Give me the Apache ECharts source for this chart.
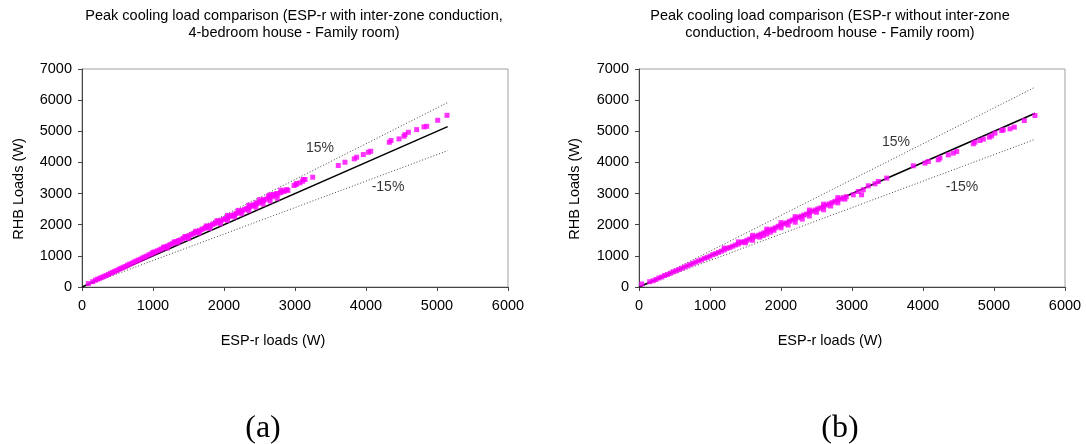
<!DOCTYPE html>
<html>
<head>
<meta charset="utf-8">
<script src="https://cdn.jsdelivr.net/npm/echarts@6/dist/echarts.min.js"></script>
<style>html,body{margin:0;padding:0;background:#fff}#c{width:1086px;height:444px}</style>
</head>
<body>
<div id="c"></div>
<script>
// ---- data ----
const titleA = ['Peak cooling load comparison (ESP-r with inter-zone conduction,', '4-bedroom house - Family room)'];
const titleB = ['Peak cooling load comparison (ESP-r without inter-zone', 'conduction, 4-bedroom house - Family room)'];
const xName = 'ESP-r loads (W)';
const yName = 'RHB Loads (W)';
const panelLabels = ['(a)', '(b)'];
const bandLabels = ['15%', '-15%'];

// ESP-r (x) vs RHB (y), panel (a)
const pointsA = [
[90,110],[150,170],[190,220],[220,250],[250,280],[280,310],[310,340],[340,370],[370,400],[400,440],
[430,470],[460,500],[490,530],[520,570],[550,600],[580,630],[610,660],[640,700],[670,730],[700,760],
[730,800],[760,830],[790,860],[820,890],[850,930],[880,960],[910,990],[940,1030],[970,1060],[1000,1090],
[1030,1130],[1060,1160],[1090,1190],[1120,1220],[1150,1260],[1180,1290],[1210,1320],[1240,1360],[1270,1390],[1300,1420],
[1330,1460],[1360,1490],[1390,1510],[1420,1550],[1450,1590],[1480,1620],[1510,1650],[1540,1690],[1570,1710],[1600,1750],
[1630,1780],[1660,1810],[1690,1850],[1720,1880],[1750,1910],[1780,1950],[1810,1970],[1840,2010],[1870,2040],[1900,2070],
[1930,2110],[1960,2130],[1990,2170],[2020,2200],[2050,2230],[2080,2260],[2110,2300],[2140,2320],[2170,2360],[2200,2390],
[2230,2420],[2260,2460],[2290,2490],[2320,2520],[2350,2560],[2380,2590],[2410,2620],[2440,2660],[2470,2690],[2500,2720],
[2530,2750],[2560,2780],[2600,2820],[2640,2860],[2680,2900],[2720,2940],[2760,2990],[2800,3030],[2850,3080],[2900,3100],
[1200,1250],[1350,1420],[1500,1560],[1650,1730],[1800,1880],[1950,2030],[2050,2140],[2150,2250],[2250,2350],[2350,2450],
[2450,2560],[2550,2660],[2650,2760],[2750,2850],
[1000,1110],[1150,1280],[1300,1450],[1450,1620],[1600,1790],[1750,1960],[1900,2130],[2050,2300],[2200,2460],[2350,2630],
[2500,2800],[2650,2960],[2800,3110],
[2413,2628],[2460,2705],[2554,2811],[2624,2917],[2694,2971],[2742,3003],[2836,3077],[2883,3131],[2986,3260],[3014,3292],
[3024,3324],[3070,3346],[3108,3397],[3117,3452],[3141,3452],[3249,3526],[3610,3901],[3704,4006],[3835,4115],[3869,4167],
[3962,4253],[4033,4327],[4066,4359],[4328,4647],[4352,4702],[4465,4756],[4535,4840],[4549,4894],[4597,4968],[4714,5054],
[4817,5141],[4855,5160],[5010,5353],[5141,5513]
];

// panel (b)
const pointsB = [
[38,96],[150,170],[200,200],[240,240],[280,290],[320,320],[360,370],[400,400],[440,440],[480,490],
[520,520],[560,560],[600,600],[640,640],[680,680],[720,720],[760,760],[800,800],[840,840],[880,870],
[920,920],[960,950],[1000,990],[1040,1040],[1080,1070],[1120,1110],[1160,1150],[1200,1190],[1240,1240],[1280,1270],
[1320,1310],[1360,1350],[1400,1380],[1440,1430],[1480,1460],[1520,1500],[1560,1540],[1600,1600],[1640,1620],[1680,1660],
[1720,1700],[1760,1740],[1800,1790],[1840,1830],[1880,1860],[1920,1900],[1960,1950],[2000,1990],[2040,2030],[2080,2060],
[2120,2110],[2160,2150],[2200,2190],[2240,2230],[2280,2270],[2320,2310],[2360,2340],[2400,2390],[2440,2430],[2480,2470],
[2520,2510],[2560,2540],[2600,2590],[2640,2630],[2680,2670],[2720,2710],[2760,2750],[2800,2790],[2840,2830],[2880,2870],
[2920,2900],
[1500,1420],[1600,1500],[1700,1600],[1750,1650],[1800,1700],[1850,1760],[1900,1820],[2000,1900],[2100,1990],[2200,2080],
[2300,2180],[2400,2280],[2500,2400],[2600,2480],[2700,2600],[2800,2700],[2900,2820],
[1200,1250],[1400,1450],[1600,1660],[1800,1860],[2000,2070],[2200,2260],[2400,2470],[2600,2660],[2800,2870],
[3018,2961],[3088,3067],[3135,2960],[3159,3122],[3230,3250],[3324,3314],[3370,3388],[3489,3497],[3863,3892],[4028,3978],
[4075,4030],[4215,4084],[4239,4139],[4356,4244],[4427,4299],[4475,4350],[4709,4598],[4732,4652],[4803,4703],[4850,4748],
[4934,4812],[4967,4854],[5014,4941],[5108,5024],[5131,5047],[5225,5079],[5286,5133],[5427,5345],[5577,5505]
];

// reference lines: 1:1 and +/-15 %
const refXA = [0, 5150];
const refYA = [0, 5150];
const upperYA = [0, 5922];
const lowerYA = [0, 4378];
const refXB = [0, 5580];
const refYB = [0, 5580];
const upperYB = [0, 6417];
const lowerYB = [0, 4743];

// band label anchors (data units)
const bandLabelPosA = [[3352, 4470], [4310, 3200]];
const bandLabelPosB = [[3620, 4660], [4549, 3220]];

// ---- chart ----
const FONT = '"Liberation Sans", Arial, sans-serif';
const SERIF = '"Liberation Serif", "Times New Roman", serif';
const FS = 14.5;
const chart = echarts.init(document.getElementById('c'), null, {renderer: 'canvas'});

function pairs(xs, ys) { return xs.map((x, i) => [x, ys[i]]); }

function axisX(gi) {
  return {
    type: 'value', gridIndex: gi, min: 0, max: 6000, interval: 1000,
    axisLine: {show: true, lineStyle: {color: '#444', width: 1}},
    axisTick: {show: true, inside: false, length: 4, lineStyle: {color: '#444'}},
    axisLabel: {color: '#000', fontSize: FS, fontFamily: FONT, margin: 11, formatter: v => String(v)},
    splitLine: {show: false}
  };
}
function axisY(gi) {
  return {
    type: 'value', gridIndex: gi, min: 0, max: 7000, interval: 1000,
    axisLine: {show: true, lineStyle: {color: '#444', width: 1}},
    axisTick: {show: true, inside: false, length: 4, lineStyle: {color: '#444'}},
    axisLabel: {color: '#000', fontSize: FS, fontFamily: FONT, margin: 10, formatter: v => String(v)},
    splitLine: {show: false}
  };
}
function seriesFor(gi, pts, rx, ry, up, lo, labPos) {
  return [
    {type: 'line', xAxisIndex: gi, yAxisIndex: gi, data: pairs(rx, up), symbol: 'none', silent: true,
     lineStyle: {color: '#444', width: 1, type: [1, 2]}, z: 2},
    {type: 'line', xAxisIndex: gi, yAxisIndex: gi, data: pairs(rx, lo), symbol: 'none', silent: true,
     lineStyle: {color: '#444', width: 1, type: [1, 2]}, z: 2},
    {type: 'line', xAxisIndex: gi, yAxisIndex: gi, data: pairs(rx, ry), symbol: 'none', silent: true,
     lineStyle: {color: '#000', width: 1.5}, z: 3},
    {type: 'scatter', xAxisIndex: gi, yAxisIndex: gi, data: pts, symbol: 'rect', symbolSize: 5,
     itemStyle: {color: '#ff00ff'}, z: 4},
    {type: 'scatter', xAxisIndex: gi, yAxisIndex: gi, symbolSize: 0, silent: true, z: 5,
     data: labPos.map((p, i) => ({value: p, label: {show: true, formatter: bandLabels[i]}})),
     label: {position: 'inside', color: '#000', fontSize: 14, fontFamily: FONT}}
  ];
}

const txt = (t, x, y, size, fam, rot) => ({
  type: 'text', x: x, y: y, rotation: rot || 0,
  style: {text: t, font: size + 'px ' + fam, fill: '#000', textAlign: 'center', textVerticalAlign: 'middle'}
});

chart.setOption({
  animation: false,
  backgroundColor: '#fff',
  grid: [
    {left: 82, top: 69, width: 426, height: 218, show: true, borderColor: '#a0a0a0', borderWidth: 1},
    {left: 639, top: 69, width: 426, height: 218, show: true, borderColor: '#a0a0a0', borderWidth: 1}
  ],
  xAxis: [axisX(0), axisX(1)],
  yAxis: [axisY(0), axisY(1)],
  series: [].concat(
    seriesFor(0, pointsA, refXA, refYA, upperYA, lowerYA, bandLabelPosA),
    seriesFor(1, pointsB, refXB, refYB, upperYB, lowerYB, bandLabelPosB)
  ),
  graphic: [
    txt(titleA[0], 294, 15.5, FS, FONT), txt(titleA[1], 294, 33, FS, FONT),
    txt(titleB[0], 830, 15.5, FS, FONT), txt(titleB[1], 830, 33, FS, FONT),
    txt(xName, 273, 340.5, FS, FONT), txt(xName, 830, 340.5, FS, FONT),
    txt(yName, 19, 189, FS, FONT, Math.PI / 2), txt(yName, 575, 189, FS, FONT, Math.PI / 2),
    txt(panelLabels[0], 263, 429, 32, SERIF),
    txt(panelLabels[1], 840, 429, 32, SERIF)
  ]
});
</script>
</body>
</html>
